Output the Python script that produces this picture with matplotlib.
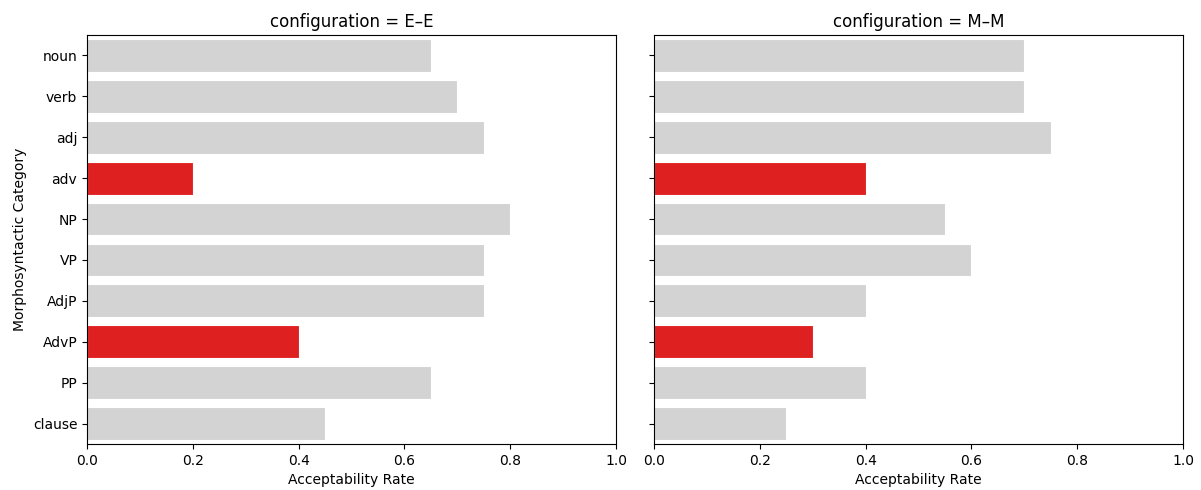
import matplotlib
matplotlib.use("Agg")
import matplotlib.pyplot as plt

categories = ["noun", "verb", "adj", "adv", "NP", "VP", "AdjP", "AdvP", "PP", "clause"]
ee_values = [0.65, 0.70, 0.75, 0.20, 0.80, 0.75, 0.75, 0.40, 0.65, 0.45]
mm_values = [0.70, 0.70, 0.75, 0.40, 0.55, 0.60, 0.40, 0.30, 0.40, 0.25]
highlight = ["adv", "AdvP"]
titles = ["configuration = E\u2013E", "configuration = M\u2013M"]

GRAY = "#d3d3d3"
RED = "#df2020"

fig = plt.figure(figsize=(12.01, 4.9), dpi=100)
ax1 = fig.add_axes([87/1201, 1-444/490, (616-87)/1201, (444-35)/490])
ax2 = fig.add_axes([654/1201, 1-444/490, (1183-654)/1201, (444-35)/490], sharey=ax1)

for ax, vals, title in zip([ax1, ax2], [ee_values, mm_values], titles):
    colors = [RED if c in highlight else GRAY for c in categories]
    ax.barh(range(len(categories)), vals, height=0.8, color=colors,
            edgecolor="white", linewidth=0.8)
    ax.set_xlim(0, 1.0)
    ax.set_ylim(len(categories) - 0.5, -0.5)
    ax.set_yticks(range(len(categories)))
    ax.set_title(title, fontsize=12)
    ax.set_xlabel("Acceptability Rate", fontsize=10)

ax1.set_yticklabels(categories)
ax1.set_ylabel("Morphosyntactic Category", fontsize=10)
ax2.tick_params(axis="y", labelleft=False)

fig.savefig("out.png", dpi=100)
